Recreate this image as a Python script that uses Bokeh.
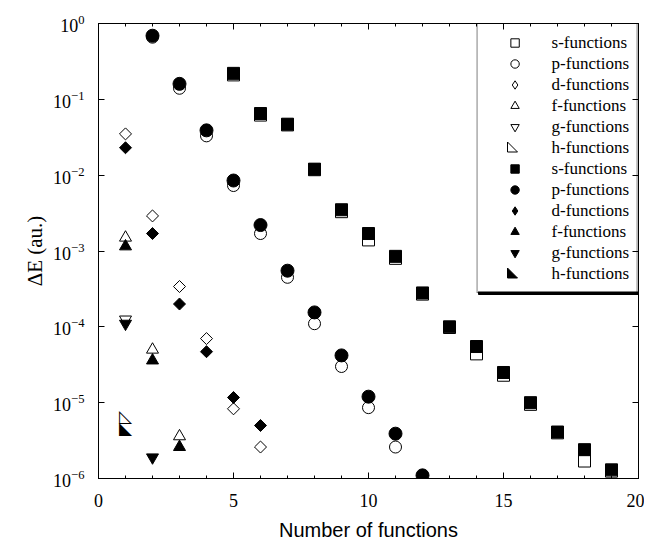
import math
from bokeh.plotting import figure
from bokeh.models import (LinearAxis, LogAxis, Legend, LegendItem, Range1d,
                          BoxAnnotation, PolyAnnotation)
from bokeh.core.properties import value
from bokeh.embed import file_html
from bokeh.resources import INLINE

# ---- data ----
s_x = [5, 6, 7, 8, 9, 10, 11, 12, 13, 14, 15, 16, 17, 18, 19]
s_open = [0.21, 0.062, 0.046, 0.0118, 0.0033, 0.0014, 0.0008, 0.00027, 9.8e-5,
          4.4e-5, 2.3e-5, 9.5e-6, 4.0e-6, 1.7e-6, 1.25e-6]
s_filled = [0.22, 0.065, 0.047, 0.012, 0.0035, 0.0017, 0.00085, 0.00028, 1.0e-4,
            5.5e-5, 2.5e-5, 1.0e-5, 4.1e-6, 2.4e-6, 1.3e-6]

p_open_x = [2, 3, 4, 5, 6, 7, 8, 9, 10, 11]
p_open = [0.66, 0.14, 0.033, 0.0073, 0.0017, 0.00045, 0.00011, 3.0e-5, 8.6e-6, 2.6e-6]
p_filled_x = [2, 3, 4, 5, 6, 7, 8, 9, 10, 11, 12]
p_filled = [0.69, 0.16, 0.039, 0.0085, 0.0022, 0.00055, 0.000155, 4.2e-5, 1.2e-5,
            3.9e-6, 1.1e-6]

d_x = [1, 2, 3, 4, 5, 6]
d_open = [0.035, 0.0029, 0.00034, 7.0e-5, 8.3e-6, 2.6e-6]
d_filled = [0.023, 0.0017, 0.0002, 4.7e-5, 1.17e-5, 5.0e-6]

f_x = [1, 2, 3]
f_open = [0.0015, 5.0e-5, 3.6e-6]
f_filled = [0.00115, 3.6e-5, 2.6e-6]

g_open_x = [1]
g_open = [0.000125]
g_filled_x = [1, 2]
g_filled = [0.00011, 1.9e-6]

h_x = [1]
h_open = [6.6e-6]
h_filled = [4.7e-6]

labels = ["s-functions", "p-functions", "d-functions", "f-functions",
          "g-functions", "h-functions"]

SERIF = "Liberation Serif"

W, H = 644, 543
BL, BR, BT, BB = 98, 6, 23, 65
p = figure(width=W, height=H, output_backend="svg", toolbar_location=None,
           y_axis_type="log", x_range=Range1d(0, 20), y_range=Range1d(1e-6, 1),
           min_border_left=BL, min_border_right=BR, min_border_top=BT,
           min_border_bottom=BB)
p.grid.visible = False
p.outline_line_color = "black"
p.outline_line_width = 1

xa = p.xaxis[0]
ya = p.yaxis[0]
for ax in (xa, ya):
    ax.major_tick_in = 6
    ax.major_tick_out = 0
    ax.minor_tick_in = 3
    ax.minor_tick_out = 0
    ax.axis_line_color = "black"
    ax.major_label_text_font = SERIF
    ax.major_label_text_font_size = "18px"
    ax.major_label_text_color = "black"
    ax.axis_label_text_font_style = "normal"
    ax.axis_label_text_color = "black"
xa.ticker.desired_num_ticks = 4
xa.ticker.num_minor_ticks = 5
xa.major_label_standoff = 15
xa.axis_label = "Number of functions"
xa.axis_label_text_font = "Liberation Sans"
xa.axis_label_text_font_size = "20px"
xa.axis_label_standoff = 9
ya.minor_tick_line_color = None
ya.major_label_standoff = 14
ya.axis_label = "ΔE (au.)"
ya.axis_label_text_font = SERIF
ya.axis_label_text_font_size = "21px"
ya.axis_label_standoff = 3

top = LinearAxis(major_label_text_font_size="1px", major_label_text_alpha=0,
                 major_tick_in=6, major_tick_out=0,
                 minor_tick_in=3, minor_tick_out=0, major_label_standoff=0)
top.ticker.desired_num_ticks = 4
top.ticker.num_minor_ticks = 5
p.add_layout(top, "above")
right = LogAxis(major_label_text_font_size="1px", major_label_text_alpha=0,
                major_tick_in=6, major_tick_out=0,
                minor_tick_line_color=None, major_label_standoff=0)
p.add_layout(right, "right")

SZ = 12
common_open = dict(fill_color="white", line_color="black", line_width=1)
common_fill = dict(fill_color="black", line_color="black", line_width=1)
HFONT = value("DejaVu Sans")

r_so = p.scatter(s_x, s_open, marker="square", size=SZ, **common_open)
r_po = p.scatter(p_open_x, p_open, marker="circle", size=SZ, **common_open)
r_do = p.scatter(d_x, d_open, marker="square", angle=math.pi / 4, size=8.5, **common_open)
r_fo = p.scatter(f_x, f_open, marker="triangle", size=SZ, **common_open)
r_go = p.scatter(g_open_x, g_open, marker="inverted_triangle", size=SZ, **common_open)
p.text(h_x, h_open, text=["◺"], text_font=HFONT, text_font_size="17px",
       text_align="center", text_baseline="middle", text_color="black")

r_sf = p.scatter(s_x, s_filled, marker="square", size=SZ, **common_fill)
r_pf = p.scatter(p_filled_x, p_filled, marker="circle", size=13, **common_fill)
r_df = p.scatter(d_x, d_filled, marker="square", angle=math.pi / 4, size=8.5, **common_fill)
r_ff = p.scatter(f_x, f_filled, marker="triangle", size=SZ, **common_fill)
r_gf = p.scatter(g_filled_x, g_filled, marker="inverted_triangle", size=SZ, **common_fill)
p.text(h_x, h_filled, text=["◣"], text_font=HFONT, text_font_size="17px",
       text_align="center", text_baseline="middle", text_color="black")

# legend-only stand-ins for the diamond entries (legend ignores marker angle)
r_do_leg = p.scatter(d_x, d_open, marker="diamond", size=SZ, visible=False, **common_open)
r_df_leg = p.scatter(d_x, d_filled, marker="diamond", size=SZ, visible=False, **common_fill)

# ---- legend (frame-relative screen units, y measured upward) ----
PAD, GW, ROW, LS = 8, 58, 21, 8
FW = W - BL - BR                # frame width
FH = H - BT - BB                # frame height
LEG_W = 2 * PAD + GW + LS + 81
LEG_H = 2 * PAD + 12 * ROW

box_units = dict(left_units="screen", right_units="screen", top_units="screen",
                 bottom_units="screen", level="underlay")
p.add_layout(BoxAnnotation(left=FW - LEG_W + 3, right=FW + 3, top=FH - 3,
                           bottom=FH - LEG_H - 3, fill_color="black", fill_alpha=1,
                           line_color="black", line_alpha=1, **box_units))
p.add_layout(BoxAnnotation(left=FW - LEG_W, right=FW, top=FH, bottom=FH - LEG_H,
                           fill_color="white", fill_alpha=1, line_alpha=0,
                           **box_units))

rends = [r_so, r_po, r_do_leg, r_fo, r_go, None, r_sf, r_pf, r_df_leg, r_ff, r_gf, None]
items = [LegendItem(label=labels[i % 6], renderers=([r] if r is not None else []))
         for i, r in enumerate(rends)]
legend = Legend(items=items, location="top_right", margin=0, padding=PAD,
                glyph_width=GW, glyph_height=ROW, label_height=ROW, spacing=0,
                label_standoff=LS, label_text_font=SERIF, label_text_font_size="17px",
                label_text_color="black",
                border_line_color="black", border_line_width=1.5,
                background_fill_alpha=0)
p.add_layout(legend, "center")

# right-triangle glyphs for the two h-functions legend rows
HS = 5
for row, fill in ((5, "white"), (11, "black")):
    cx = FW - LEG_W + PAD + GW / 2
    cy = FH - PAD - ROW * row - ROW / 2
    p.add_layout(PolyAnnotation(xs=[cx - HS, cx - HS, cx + HS],
                                ys=[cy + HS, cy - HS, cy - HS],
                                xs_units="screen", ys_units="screen",
                                fill_color=fill, fill_alpha=1, line_color="black",
                                line_width=1, line_alpha=1))

open("out.html", "w").write(file_html(p, INLINE))
